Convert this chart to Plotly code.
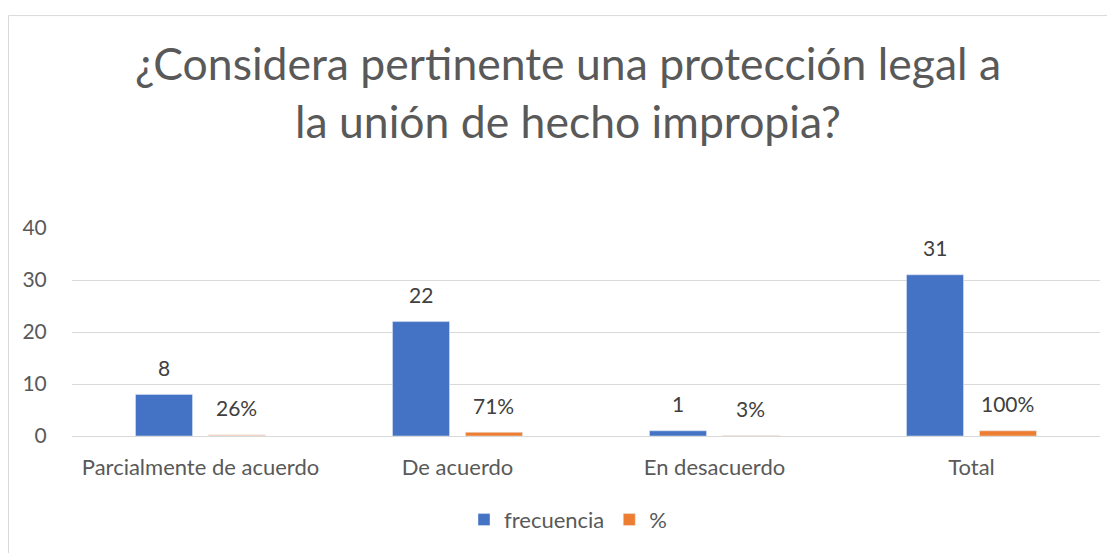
import plotly.graph_objects as go

categories = ["Parcialmente de acuerdo", "De acuerdo", "En desacuerdo", "Total"]
frecuencia = [8, 22, 1, 31]
porcentaje = [0.26, 0.71, 0.03, 1.00]
porcentaje_labels = ["26%", "71%", "3%", "100%"]
y_ticks = [0, 10, 20, 30, 40]

BLUE = "#4472C4"
ORANGE = "#ED7D31"
PALE = "#F8CBAD"
FONT = "Lato"

# page body has an 8px margin; figure coordinates = page coordinates - 8
OFF = 8
W, H = 1115 - OFF, 553 - OFF
L, R = 72 - OFF, W - (1100 - OFF)
T, B = 228 - OFF, H - (439 - OFF)
plot_w = W - L - R
plot_h = H - T - B

fig = go.Figure()
fig.add_trace(go.Bar(x=categories, y=frecuencia, marker_color=BLUE, name="frecuencia",
                     offsetgroup="f", showlegend=False, hoverinfo="skip"))
fig.add_trace(go.Bar(x=categories, y=porcentaje,
                     marker_color=[PALE, ORANGE, ORANGE, ORANGE], name="%",
                     offsetgroup="p", showlegend=False, hoverinfo="skip"))
# legend entries
fig.add_trace(go.Bar(x=[categories[0]], y=[None], marker_color=BLUE, name="frecuencia",
                     offsetgroup="f"))
fig.add_trace(go.Bar(x=[categories[0]], y=[None], marker_color=ORANGE, name="%",
                     offsetgroup="p"))

cat_w = plot_w / len(categories)
bargap = 0.432
bargroupgap = 0.219
slot = cat_w * (1 - bargap) / 2

LBL = dict(family=FONT, size=21, color="#404040")
for c, v in zip(categories, frecuencia):
    fig.add_annotation(x=c, y=v, text=str(v), showarrow=False, xshift=-slot / 2,
                       yshift=27, yanchor="middle", font=LBL)
for c, v, t in zip(categories, porcentaje, porcentaje_labels):
    fig.add_annotation(x=c, y=v, text=t, showarrow=False, xshift=slot / 2,
                       yshift=27, yanchor="middle", font=LBL)

# chart border
fig.add_shape(type="rect", xref="paper", yref="paper",
              x0=(8.5 - OFF - L) / plot_w, x1=(W + 20 - L) / plot_w,
              y0=(H - B - (H + 20)) / plot_h, y1=(H - B - (12.5 - OFF)) / plot_h,
              line=dict(color="#D9D9D9", width=1), fillcolor="rgba(0,0,0,0)", layer="below")

fig.update_layout(
    width=W, height=H,
    margin=dict(l=L, r=R, t=T, b=B, pad=0),
    paper_bgcolor="white", plot_bgcolor="white",
    barmode="group", bargap=bargap, bargroupgap=bargroupgap,
    title=dict(text="¿Considera pertinente una protección legal a<br>la unión de hecho impropia?",
               x=(568 - OFF) / W, xanchor="center", xref="container",
               y=1 - (80 - OFF) / H, yanchor="middle", yref="container",
               font=dict(family=FONT, size=44.5, color="#595959")),
    font=dict(family=FONT, size=21, color="#595959"),
    showlegend=True,
    legend=dict(orientation="h", x=(568 - OFF - L) / plot_w, xanchor="center",
                y=(H - B - (524 - OFF)) / plot_h, yanchor="middle",
                font=dict(family=FONT, size=22, color="#595959"),
                traceorder="normal"),
    xaxis=dict(showgrid=False, showline=False, ticks="outside", ticklen=12,
               tickcolor="rgba(0,0,0,0)", tickfont=dict(family=FONT, size=22, color="#595959")),
    yaxis=dict(range=[0, 40], tickvals=y_ticks, showgrid=True, gridcolor="#D9D9D9", gridwidth=1,
               zeroline=True, zerolinecolor="#D9D9D9", zerolinewidth=1, showline=False,
               ticks="outside", ticklen=20, tickcolor="rgba(0,0,0,0)",
               tickfont=dict(family=FONT, size=21, color="#595959")),
)

fig.write_html("out.html")
